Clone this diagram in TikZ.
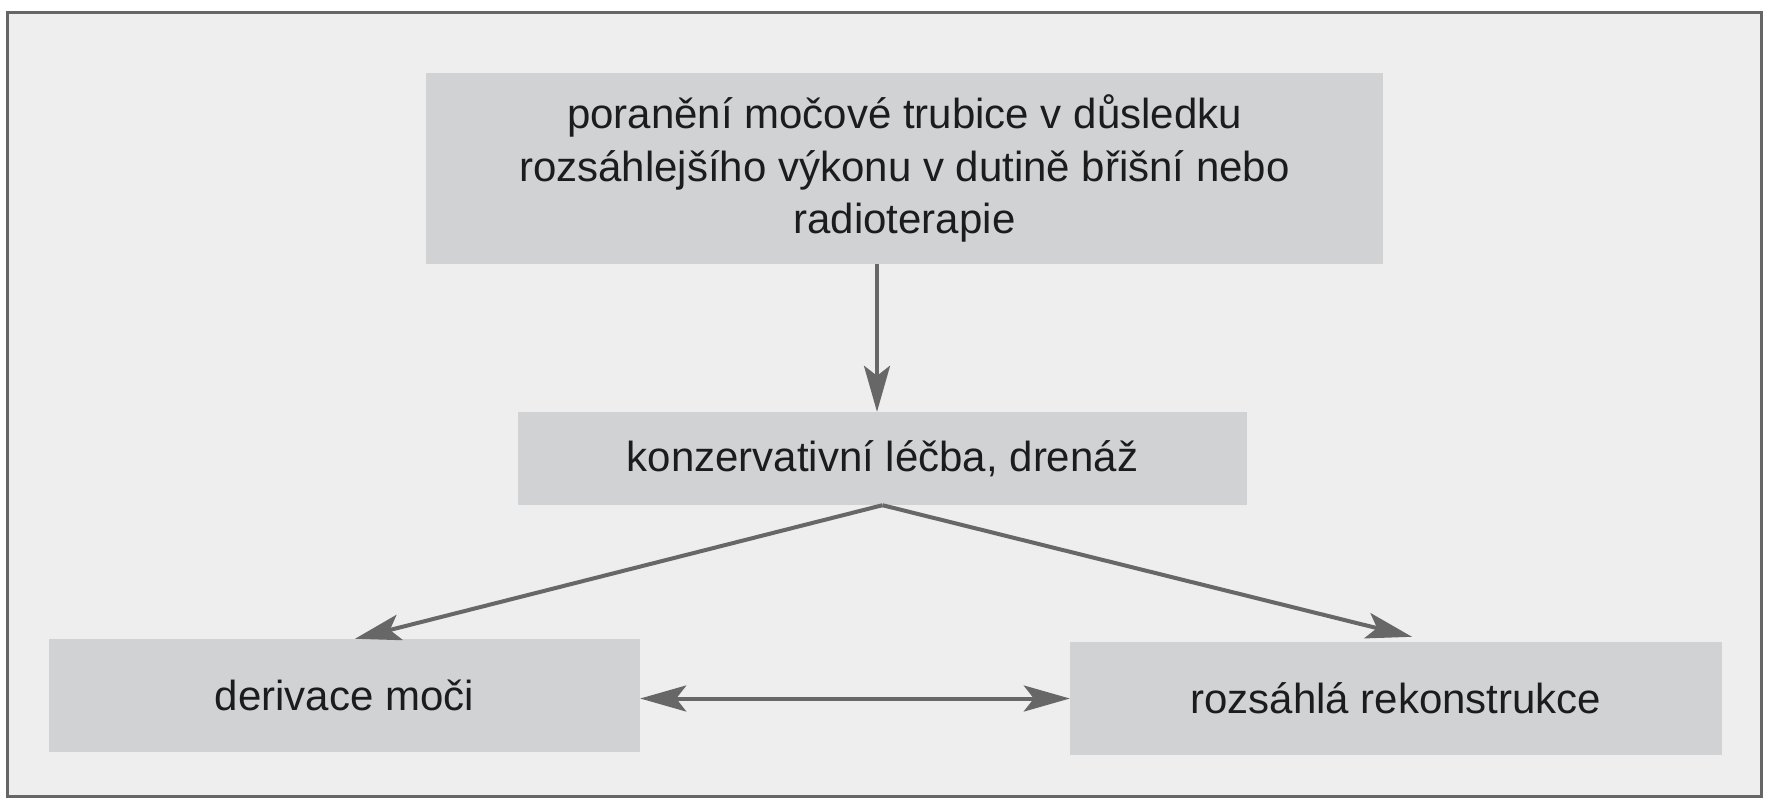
\documentclass[tikz,border=0pt]{standalone}
\usepackage{fontspec}
\setmainfont{Liberation Sans}
\usetikzlibrary{arrows.meta,calc}
\definecolor{bggray}{HTML}{EEEEEE}
\definecolor{boxgray}{HTML}{D1D2D4}
\definecolor{framegray}{HTML}{666666}
\definecolor{arrgray}{HTML}{676767}
\definecolor{txt}{HTML}{1C1C1C}
\tikzset{
  flowbox/.style={fill=boxgray, draw=none, inner sep=0pt, align=center,
    text=txt, font=\fontsize{42}{52.5}\selectfont},
  arr/.style={draw=arrgray, line width=4pt,
    -{Stealth[length=46pt,width=26pt,inset=10pt]}},
  dblarr/.style={draw=arrgray, line width=4pt,
    {Stealth[length=46pt,width=26pt,inset=10pt]}-{Stealth[length=46pt,width=26pt,inset=10pt]}}
}
\begin{document}
\begin{tikzpicture}[x=1pt,y=-1pt]
\useasboundingbox (0,0) rectangle (1769,800);
\fill[white] (0,0) rectangle (1769,800);
\draw[framegray, line width=3pt, fill=bggray] (7,13) rectangle (1761,796);

\node[flowbox, minimum width=957pt, minimum height=191pt] (top) at (904.5,168.5)
  {poranění močové trubice v důsledku\\rozsáhlejšího výkonu v dutině břišní nebo\\radioterapie};
\node[flowbox, minimum width=729pt, minimum height=93pt] (mid) at (882.5,458.5)
  {konzervativní léčba, drenáž};
\node[flowbox, minimum width=591pt, minimum height=113pt] (left) at (344.5,695.5)
  {derivace moči};
\node[flowbox, minimum width=652pt, minimum height=113pt] (right) at (1396,698.5)
  {rozsáhlá rekonstrukce};

\draw[arr] ([xshift=-27.5pt]top.south) -- ([xshift=-5.5pt]mid.north);
\draw[arr] (mid.south) -- ([xshift=10.5pt]left.north);
\draw[arr] (mid.south) -- ([xshift=16pt,yshift=5pt]right.north);
\draw[dblarr] (left.east |- right.west) -- (right.west);
\end{tikzpicture}
\end{document}
